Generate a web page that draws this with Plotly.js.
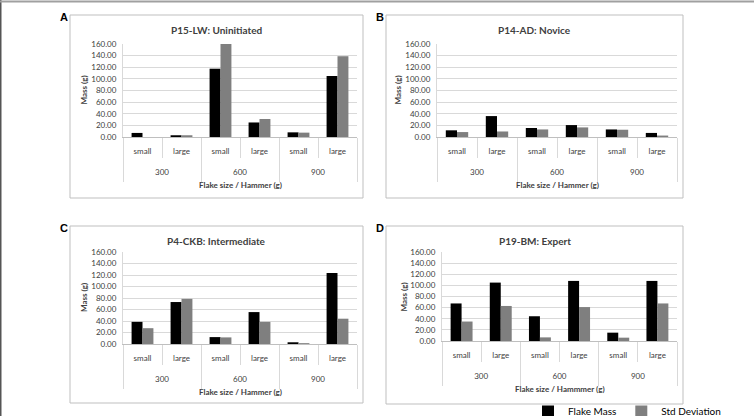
<!DOCTYPE html>
<html><head><meta charset="utf-8">
<script src="https://cdn.plot.ly/plotly-3.0.1.min.js"></script>
<style>html,body{margin:0;padding:0;background:#fff}#chart{width:754px;height:416px}</style>
</head><body><div id="chart"></div>
<script>
const hammers = ['300','300','600','600','900','900'];
const sizes = ['small','large','small','large','small','large'];
const hammerGroups = ['300','600','900'];
const seriesNames = ['Flake Mass','Std Deviation'];
const panelTitles = ['P15-LW: Uninitiated','P14-AD: Novice','P4-CKB: Intermediate','P19-BM: Expert'];
const panelLetters = ['A','B','C','D'];
const xTitles = ['Flake size / Hammer (g)','Flake size / Hammer (g)','Flake size / Hammer (g)','Flake size / Hammmer (g)'];
const yTitle = 'Mass (g)';
const massA = [7, 3, 117.5, 25, 8, 105];
const stdA  = [0, 3, 160, 31, 7.5, 139];
const massB = [11.5, 36, 15.5, 20.5, 13, 7];
const stdB  = [8.5, 9.5, 13, 16.5, 12.5, 2.5];
const massC = [38.5, 73, 12, 55.5, 3, 123.5];
const stdC  = [27.5, 78.5, 11.5, 38.5, 1.5, 44];
const massD = [67.5, 105, 44.5, 108, 15, 108];
const stdD  = [35, 63, 6.5, 61, 6, 67.5];

const W = 754, H = 416;
const px = x => x / W, py = y => 1 - y / H;
const FONT = 'Lato, "Open Sans", sans-serif';
const colors = ['#000000', '#7f7f7f'];
const keys = hammers.map((h, k) => h + '-' + sizes[k]);

// plot areas in pixels: [left, right, top, bottom]
const plots = [[123,357,44,137],[437,677,44,137],[123,357,252,344],[442,677,252,341]];
const boxes = [[70,363,15,198],[386,683,15,198],[70,363,226,403],[386,683,226,404]];
const mass = [massA, massB, massC, massD];
const std = [stdA, stdB, stdC, stdD];

const data = [];
const layout = {
  width: W, height: H, margin: {l:0,r:0,t:0,b:0, autoexpand:false},
  paper_bgcolor: '#fff', plot_bgcolor: '#fff',
  font: {family: FONT, size: 8, color: '#404040'},
  barmode: 'group', bargap: 0.44, bargroupgap: 0,
  showlegend: true,
  legend: {orientation:'h', x: px(528), y: py(397), xanchor:'left', yanchor:'top',
           font:{family: FONT, size: 10, color:'#000'}, itemwidth: 30,
           traceorder:'normal', bgcolor:'rgba(0,0,0,0)'},
  shapes: [], annotations: []
};

for (let i = 0; i < 4; i++) {
  const xa = i === 0 ? 'x' : 'x' + (i+1);
  const ya = i === 0 ? 'y' : 'y' + (i+1);
  const xg = 'x' + (i+5);
  [mass[i], std[i]].forEach((vals, s) => {
    data.push({type:'bar', x: keys, y: vals, name: seriesNames[s],
      xaxis: xa, yaxis: ya, marker:{color: colors[s], line:{width:0}},
      showlegend: i === 0, legendgroup: seriesNames[s], hoverinfo:'skip'});
  });
  // carrier for the hammer-group axis
  data.push({type:'scatter', mode:'markers', x: hammerGroups, y: hammerGroups.map(() => 0),
    xaxis: xg, yaxis: ya, marker:{opacity:0}, showlegend:false, hoverinfo:'skip'});
  const [l,r,t,b] = plots[i];
  layout['xaxis' + (i ? i+1 : '')] = {
    type:'category', domain:[px(l), px(r)], anchor: ya, range:[-0.5, keys.length - 0.5],
    tickvals: keys, ticktext: sizes,
    showline:true, linecolor:'#bfbfbf', linewidth:1,
    ticks:'outside', tickson:'boundaries', ticklen: 20, tickcolor:'#d9d9d9',
    ticklabelstandoff: 6,
    tickfont:{family: FONT, size: 8, color:'#404040'}, showgrid:false, fixedrange:true
  };
  layout['xaxis' + (i+5)] = {
    type:'category', domain:[px(l), px(r)], anchor: ya, overlaying: xa, side:'bottom',
    range:[-0.5, hammerGroups.length - 0.5],
    showline:false, ticks:'outside', tickson:'boundaries', ticklen: 44, tickcolor:'#d9d9d9',
    ticklabelstandoff: 29,
    tickfont:{family: FONT, size: 8, color:'#404040'}, showgrid:false, fixedrange:true
  };
  layout['yaxis' + (i ? i+1 : '')] = {
    domain:[py(b), py(t)], anchor: xa, range:[0,160], dtick:20, tickformat:'.2f',
    showgrid:true, gridcolor:'#d9d9d9', gridwidth:1, zeroline:false,
    showline:true, linecolor:'#d9d9d9', ticks:'', ticklabelstandoff: 4,
    tickfont:{family: FONT, size: 8, color:'#404040'}, fixedrange:true
  };
  const [bl,br,bt,bb] = boxes[i];
  layout.shapes.push({type:'rect', xref:'paper', yref:'paper', x0:px(bl), x1:px(br), y0:py(bb), y1:py(bt),
    line:{color:'#bfbfbf', width:1}, fillcolor:'rgba(0,0,0,0)', layer:'below'});
  layout.annotations.push({xref:'paper', yref:'paper', x:px((bl+br)/2), y:py(bt+15), text:'<b>'+panelTitles[i]+'</b>',
    showarrow:false, font:{family:FONT, size:10, color:'#404040'}, xanchor:'center', yanchor:'middle'});
  layout.annotations.push({xref:'paper', yref:'paper', x:px(bl-6), y:py(bt+2), text:'<b>'+panelLetters[i]+'</b>',
    showarrow:false, font:{family:'Liberation Sans, Arial, sans-serif', size:11, color:'#000'}, xanchor:'center', yanchor:'middle'});
  layout.annotations.push({xref:'paper', yref:'paper', x:px((l+r)/2), y:py(b+48), text:'<b>'+xTitles[i]+'</b>',
    showarrow:false, font:{family:FONT, size:8, color:'#404040'}, xanchor:'center', yanchor:'middle'});
  layout.annotations.push({xref:'paper', yref:'paper', x:px(l-39), y:py((t+b)/2), text:'<b>'+yTitle+'</b>', textangle:-90,
    showarrow:false, font:{family:FONT, size:8, color:'#404040'}, xanchor:'center', yanchor:'middle'});
}
// outer frame lines
layout.shapes.push({type:'line', xref:'paper', yref:'paper', x0:px(0.5), x1:px(0.5), y0:0, y1:1, line:{color:'#555', width:2}});
layout.shapes.push({type:'line', xref:'paper', yref:'paper', x0:0, x1:1, y0:py(1.5), y1:py(1.5), line:{color:'#a0a0a0', width:2}});

Plotly.newPlot('chart', data, layout, {displayModeBar:false, staticPlot:true});
</script></body></html>
